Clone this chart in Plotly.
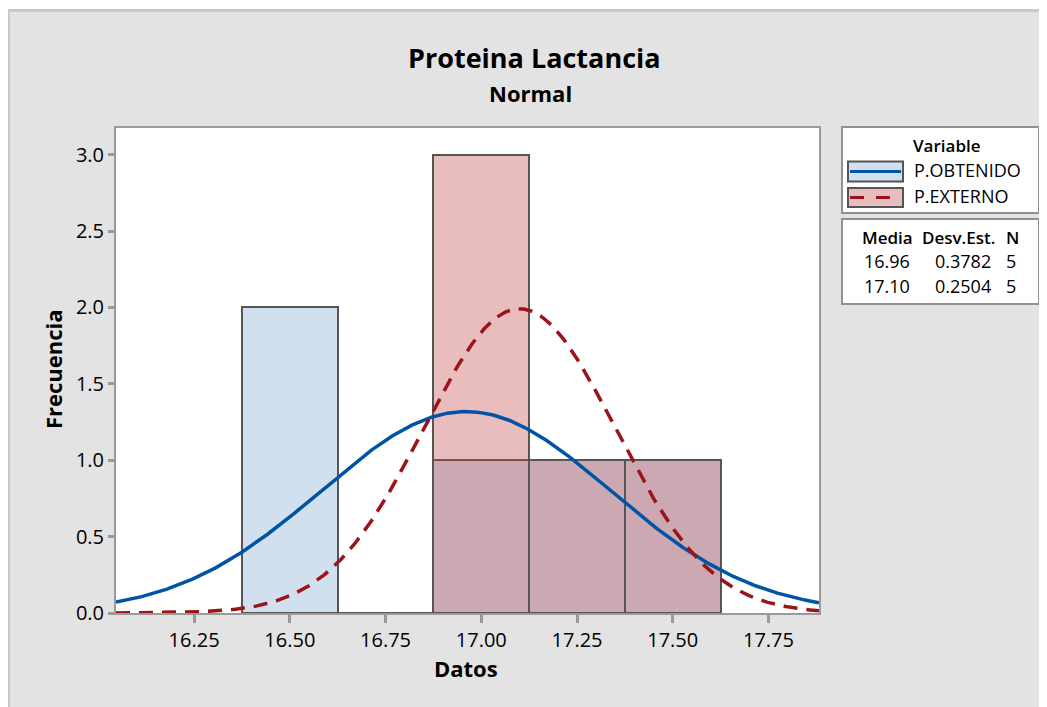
import numpy as np
import plotly.graph_objects as go

# histogram data (bin centers, width 0.25)
bins = [16.50, 16.75, 17.00, 17.25, 17.50]
obtenido = [2, 0, 1, 1, 1]
externo = [0, 0, 3, 1, 1]

variables = ["P.OBTENIDO", "P.EXTERNO"]
medias = [16.96, 17.10]
desv = [0.3782, 0.2504]
n_obs = [5, 5]

bin_width = 0.25
x_range = [16.046, 17.882]
y_range = [0, 3.175]
x_ticks = [16.25, 16.50, 16.75, 17.00, 17.25, 17.50, 17.75]
y_ticks = [0.0, 0.5, 1.0, 1.5, 2.0, 2.5, 3.0]

FONT = "Open Sans"
OFF = 8  # page body margin
W, H = 1047 - OFF, 707 - OFF
# plot area in screenshot pixels
L, R, T, B = 116, 819, 128, 613


def px(x):
    return (x - L) / (R - L)


def py(y):
    return (B - y) / (B - T)


def normal_curve(mu, sd, n):
    xs = np.linspace(x_range[0], x_range[1], 400)
    ys = n * bin_width / (sd * np.sqrt(2 * np.pi)) * np.exp(-0.5 * ((xs - mu) / sd) ** 2)
    return xs, ys


blue_fill = "rgb(209,224,239)"
red_fill = "rgba(192,64,66,0.35)"
blue_line = "#0054a6"
red_line = "#9b1419"
edge = "#555555"

fig = go.Figure()
fig.add_trace(go.Bar(x=bins, y=obtenido, width=bin_width, name=variables[0],
                     marker=dict(color=blue_fill, line=dict(color=edge, width=2)),
                     showlegend=False))
fig.add_trace(go.Bar(x=bins, y=externo, width=bin_width, name=variables[1],
                     marker=dict(color=red_fill, line=dict(color=edge, width=2)),
                     showlegend=False))

xb, yb = normal_curve(medias[0], desv[0], n_obs[0])
fig.add_trace(go.Scatter(x=xb, y=yb, mode="lines", line=dict(color=blue_line, width=3.5),
                         showlegend=False, hoverinfo="skip"))
xr, yr = normal_curve(medias[1], desv[1], n_obs[1])
fig.add_trace(go.Scatter(x=xr, y=yr, mode="lines",
                         line=dict(color=red_line, width=3.5, dash="14px,9px"),
                         showlegend=False, hoverinfo="skip"))

shapes = []
# white strip + frame at top/left
shapes.append(dict(type="rect", xref="paper", yref="paper", x0=px(0), x1=px(1100), y0=py(9), y1=py(0),
                   fillcolor="white", line=dict(width=0), layer="below"))
shapes.append(dict(type="line", xref="paper", yref="paper", x0=px(7), x1=px(1100), y0=py(10.5), y1=py(10.5),
                   line=dict(color="#c8c8c8", width=3)))
shapes.append(dict(type="line", xref="paper", yref="paper", x0=px(8.5), x1=px(8.5), y0=py(9), y1=py(720),
                   line=dict(color="#c8c8c8", width=3)))

# legend boxes
for (y0, y1) in [(127, 213), (219, 304)]:
    shapes.append(dict(type="rect", xref="paper", yref="paper", x0=px(842), x1=px(1039),
                       y0=py(y1), y1=py(y0), fillcolor="white", line=dict(color="#909090", width=2)))

swatches = [(161.5, 181.5, blue_fill, blue_line, "solid"), (188, 207, "rgb(233,188,189)", red_line, "dash")]
for (y0, y1, fill, lc, dash) in swatches:
    shapes.append(dict(type="rect", xref="paper", yref="paper", x0=px(848), x1=px(903),
                       y0=py(y1), y1=py(y0), fillcolor=fill, line=dict(color=edge, width=2)))
    ym = (y0 + y1) / 2
    shapes.append(dict(type="line", xref="paper", yref="paper", x0=px(850), x1=px(901),
                       y0=py(ym), y1=py(ym), line=dict(color=lc, width=3,
                                                       dash="14px,12px" if dash == "dash" else "solid")))

ann = []
ann.append(dict(text="<b>Proteina Lactancia</b>", x=px(534), y=py(57), font=dict(size=27)))
ann.append(dict(text="<b>Normal</b>", x=px(530), y=py(93), font=dict(size=22)))
ann.append(dict(text="<b>Datos</b>", x=px(466), y=py(668), font=dict(size=22)))
ann.append(dict(text="<b>Frecuencia</b>", x=px(53), y=py(369), font=dict(size=22), textangle=-90))
ann.append(dict(text="Variable", x=px(947), y=py(145), font=dict(size=17, weight=600)))
for i, name in enumerate(variables):
    ann.append(dict(text=name, x=px(912), y=py([170, 196][i]), xanchor="left", font=dict(size=18)))
ann.append(dict(text="Media", x=px(887), y=py(237), font=dict(size=17, weight=600)))
ann.append(dict(text="Desv.Est.", x=px(958), y=py(237), font=dict(size=17, weight=600)))
ann.append(dict(text="N", x=px(1012), y=py(237), font=dict(size=17, weight=600)))
for i in range(len(variables)):
    yy = py([261, 286][i])
    ann.append(dict(text=f"{medias[i]:.2f}", x=px(912), y=yy, xanchor="right", font=dict(size=18)))
    ann.append(dict(text=f"{desv[i]:.4f}", x=px(993), y=yy, xanchor="right", font=dict(size=18)))
    ann.append(dict(text=f"{n_obs[i]}", x=px(1018), y=yy, xanchor="right", font=dict(size=18)))
for a in ann:
    a.update(xref="paper", yref="paper", showarrow=False, yanchor="middle")
    a.setdefault("xanchor", "center")
    a["font"] = dict(family=FONT, color="black", **a["font"])

fig.update_layout(
    width=W, height=H,
    margin=dict(l=L - OFF, r=1047 - R, t=T - OFF, b=707 - B),
    paper_bgcolor="#e3e3e3", plot_bgcolor="white",
    barmode="overlay", bargap=0,
    font=dict(family=FONT, color="black"),
    shapes=shapes, annotations=ann,
)
fig.update_xaxes(range=x_range, tickvals=x_ticks, tickformat=".2f", showgrid=False, zeroline=False,
                 showline=True, linecolor="#9a9a9a", linewidth=2, mirror=True,
                 ticks="outside", ticklen=8, tickwidth=3, tickcolor="#9a9a9a",
                 tickfont=dict(size=20, family=FONT, color="black"))
fig.update_yaxes(range=y_range, tickvals=y_ticks, tickformat=".1f", showgrid=False, zeroline=False,
                 showline=True, linecolor="#9a9a9a", linewidth=2, mirror=True,
                 ticks="outside", ticklen=6, tickwidth=3, tickcolor="#9a9a9a",
                 tickfont=dict(size=20, family=FONT, color="black"))

fig.write_html("out.html")
